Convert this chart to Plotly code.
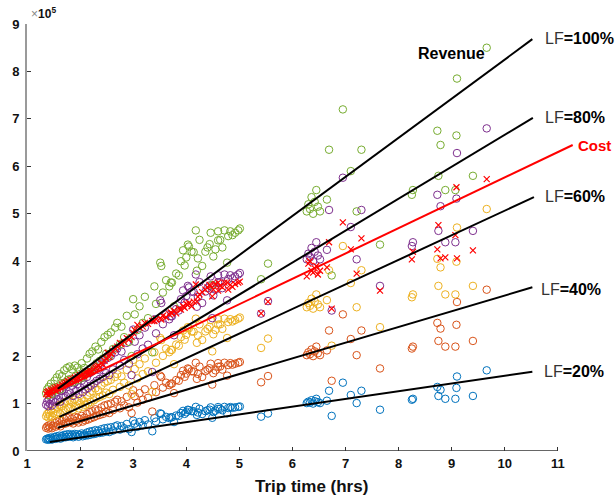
import plotly.graph_objects as go

# Trip time per flight (hrs)
trip_time = [
    1.36, 1.38, 1.40, 1.41, 1.43, 1.45, 1.47, 1.49, 1.52, 1.54,
    1.56, 1.58, 1.61, 1.63, 1.66, 1.68, 1.70, 1.73, 1.75, 1.77,
    1.80, 1.82, 1.85, 1.87, 1.90, 1.92, 1.95, 1.97, 2.00,
    2.03, 2.05, 2.08, 2.10, 2.13, 2.15, 2.18, 2.20, 2.23, 2.26,
    2.29, 2.31, 2.34, 2.37, 2.40, 2.43, 2.46, 2.49, 2.52, 2.55,
    2.58, 2.62, 2.66,
    2.70, 2.75, 2.78, 2.83, 2.88, 2.92, 2.97, 3.00, 3.03, 3.08,
    3.12, 3.18, 3.22, 3.28, 3.36, 3.40, 3.43,
    3.51, 3.53, 3.56, 3.62, 3.68, 3.71, 3.73, 3.77, 3.81, 3.86,
    3.90, 3.94, 3.97, 4.00, 4.03, 4.05, 4.10, 4.14, 4.18, 4.20,
    4.22, 4.25, 4.30, 4.36, 4.40, 4.44, 4.46, 4.49, 4.51, 4.55,
    4.60, 4.60, 4.64, 4.68, 4.72, 4.77, 4.79, 4.83, 4.87, 4.92,
    4.98, 5.01,
    5.41, 5.54,
    6.27, 6.30, 6.33, 6.36, 6.39, 6.42, 6.45, 6.48, 6.52, 6.65,
    6.69, 6.74, 6.95, 7.10, 7.21, 7.30, 7.65, 8.25, 8.27, 8.73,
    8.75, 8.79, 8.88, 9.07, 9.09, 9.10, 9.40, 9.66,
]

# Revenue per flight at 100% load factor (x 10^5)
revenue_full = [
    1.22, 1.30, 1.18, 1.35, 1.24, 1.42, 1.20, 1.33, 1.48, 1.28,
    1.55, 1.36, 1.62, 1.30, 1.58, 1.42, 1.70, 1.45, 1.75, 1.50,
    1.78, 1.52, 1.72, 1.45, 1.80, 1.58, 1.76, 1.50, 1.68,
    1.85, 1.55, 1.75, 1.62, 1.95, 1.66, 2.05, 1.72, 2.10, 1.78,
    2.20, 1.85, 2.14, 1.90, 2.30, 1.95, 2.40, 2.05, 2.45, 2.00,
    2.50, 2.15, 2.60,
    2.70, 2.25, 2.62, 2.40, 2.85, 2.30, 2.00, 3.20, 2.88, 2.55,
    3.05, 2.70, 3.25, 2.80, 2.08, 3.47, 3.10,
    3.97, 3.90, 3.34, 3.60, 3.47, 3.55, 3.55, 3.05, 3.74, 3.70,
    4.00, 4.23, 3.91, 4.08, 4.35, 4.31, 4.20, 4.19, 4.65, 3.80,
    4.06, 4.45, 3.90, 4.20, 4.29, 4.36, 4.60, 3.50, 4.10, 4.25,
    4.63, 4.44, 4.45, 4.29, 4.65, 3.97, 4.53, 4.63, 4.55, 4.60,
    4.65, 4.69,
    3.62, 3.95,
    5.05, 5.20, 5.10, 5.35, 5.00, 5.25, 5.50, 5.15, 5.05, 5.30,
    6.35, 3.70, 7.20, 5.90, 5.05, 6.35, 4.35, 5.40, 5.50, 6.75,
    5.80, 6.45, 5.50, 5.50, 6.65, 7.85, 5.80, 8.50,
]

# Operating cost per flight (x 10^5)
trip_cost = [
    1.20, 1.24, 1.18, 1.26, 1.22, 1.28, 1.25, 1.30, 1.33, 1.27,
    1.35, 1.31, 1.36, 1.34, 1.40, 1.38, 1.42, 1.44, 1.43, 1.47,
    1.45, 1.50, 1.48, 1.52, 1.55, 1.50, 1.57, 1.53, 1.60,
    1.58, 1.62, 1.57, 1.65, 1.68, 1.63, 1.70, 1.66, 1.68, 1.72,
    1.75, 1.78, 1.80, 1.76, 1.85, 1.82, 1.90, 1.95, 2.07, 1.98,
    2.05, 2.10, 2.15,
    2.20, 2.28, 2.25, 2.30, 2.38, 2.35, 2.40, 2.49, 2.55, 2.66,
    2.60, 2.62, 2.70, 2.68, 2.74, 2.74, 2.78,
    2.80, 2.77, 2.85, 2.82, 2.88, 2.92, 2.90, 2.95, 2.90, 3.00,
    2.98, 3.05, 3.02, 3.10, 3.08, 3.12, 3.05, 3.15, 3.51, 3.15,
    3.25, 3.30, 3.35, 3.40, 3.45, 3.50, 3.48, 3.26, 3.40, 3.52,
    3.55, 3.38, 3.48, 3.45, 3.55, 3.55, 3.40, 3.50, 3.46, 3.52,
    3.55, 3.57,
    2.90, 3.15,
    3.68, 3.95, 4.00, 3.80, 3.76, 3.85, 3.90, 3.72, 3.80, 3.87,
    4.40, 3.00, 4.82, 4.25, 3.74, 4.48, 3.38, 4.04, 4.20, 4.25,
    4.76, 4.06, 4.08, 4.55, 5.56, 4.06, 4.23, 5.73,
]

load_factors = [0.2, 0.4, 0.6, 0.8, 1.0]
lf_labels = ["20%", "40%", "60%", "80%", "100%"]
lf_colors = ["#0072BD", "#D95319", "#EDB120", "#7E2F8E", "#77AC30"]

# Linear trend lines for each load factor (endpoints)
fit_x_start = [1.43, 1.58, 1.61, 1.54, 1.58]
fit_x_end = [10.52, 10.52, 10.55, 10.53, 10.52]
fit_y_start = [0.19, 0.49, 0.72, 0.97, 1.31]
fit_y_end = [1.67, 3.45, 5.35, 7.02, 8.68]

cost_fit_x = [1.40, 11.28]
cost_fit_y = [1.17, 6.45]

x_ticks = list(range(1, 12))
y_ticks = list(range(0, 10))

fig = go.Figure()

# Revenue scatter at each load factor
for lf, col in zip(load_factors, lf_colors):
    fig.add_trace(go.Scatter(
        x=trip_time, y=[lf * r for r in revenue_full], mode="markers",
        marker=dict(symbol="circle-open", size=7.5, color=col,
                    line=dict(width=1, color=col)),
        hoverinfo="skip",
    ))

# Cost scatter
fig.add_trace(go.Scatter(
    x=trip_time, y=trip_cost, mode="markers",
    marker=dict(symbol="x-thin-open", size=6, color="#FF0000",
                line=dict(width=1.2, color="#FF0000")),
    hoverinfo="skip",
))

# Trend lines
for i in range(len(load_factors)):
    fig.add_trace(go.Scatter(
        x=[fit_x_start[i], fit_x_end[i]], y=[fit_y_start[i], fit_y_end[i]],
        mode="lines", line=dict(color="black", width=2), hoverinfo="skip",
    ))
fig.add_trace(go.Scatter(
    x=cost_fit_x, y=cost_fit_y, mode="lines",
    line=dict(color="#FF0000", width=2), hoverinfo="skip",
))

tick_font = dict(family="Liberation Sans", size=13, color="#111", weight="bold")

fig.update_layout(
    width=616, height=497,
    margin=dict(l=19, r=21, t=24, b=46),
    paper_bgcolor="white", plot_bgcolor="white",
    showlegend=False,
    xaxis=dict(range=[1, 11.7], tickvals=x_ticks, ticks="inside", ticklen=4,
               tickcolor="#333", tickwidth=1, showgrid=False, zeroline=False,
               showline=False, tickfont=tick_font, ticklabelstandoff=3),
    yaxis=dict(range=[0, 9], tickvals=y_ticks, ticks="inside", ticklen=4,
               tickcolor="#333", tickwidth=1, showgrid=False, zeroline=False,
               showline=True, linecolor="#9a9a9a", linewidth=2,
               tickfont=tick_font, ticklabelstandoff=3),
)

# Bottom axis line spanning 1..11
fig.add_shape(type="line", xref="x", yref="y", x0=1, x1=11, y0=0, y1=0,
              line=dict(color="#333", width=1.5))

ann_font = dict(family="Liberation Sans", size=16, color="black")

# Line labels
label_x = [10.70, 10.65, 10.72, 10.72, 10.72]
label_y = [1.67, 3.40, 5.37, 7.02, 8.69]
for i, lab in enumerate(lf_labels):
    fig.add_annotation(x=label_x[i], y=label_y[i], xref="x", yref="y",
                       text=f"<span style='color:#333'>LF</span><b>={lab}</b>",
                       showarrow=False, xanchor="left", yanchor="middle",
                       font=ann_font)

fig.add_annotation(x=1.031, y=6.43, xref="paper", yref="y", text="<b>Cost</b>",
                   showarrow=False, xanchor="right", yanchor="middle",
                   font=dict(family="Liberation Sans", size=15, color="#FF0000"))
fig.add_annotation(x=8.99, y=8.37, xref="x", yref="y", text="<b>Revenue</b>",
                   showarrow=False, xanchor="center", yanchor="middle",
                   font=dict(family="Liberation Sans", size=16, color="black"))

# Exponent marker
fig.add_annotation(x=0.004, y=1.025, xref="paper", yref="paper",
                   text="<span style='color:#888'>×</span><b>10<sup>5</sup></b>",
                   showarrow=False, xanchor="left", yanchor="middle",
                   font=dict(family="Liberation Sans", size=12, color="#111"))

# Axis title
fig.add_annotation(x=0.5, y=-0.082, xref="paper", yref="paper",
                   text="<b>Trip time (hrs)</b>", showarrow=False,
                   xanchor="center", yanchor="middle",
                   font=dict(family="Liberation Sans", size=17, color="#111"))

fig.write_html("out.html")
